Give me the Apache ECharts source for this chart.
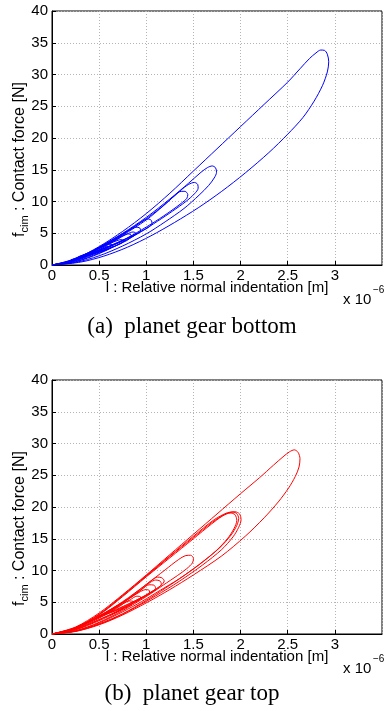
<!DOCTYPE html>
<html>
<head>
<meta charset="utf-8">
<script src="https://cdn.jsdelivr.net/npm/echarts@6/dist/echarts.min.js"></script>
<style>
  html, body { margin: 0; padding: 0; background: #fff; }
  #chart { width: 384px; height: 711px; }
</style>
</head>
<body>
<div id="chart"></div>
<script>
// indentation in 1e-6 m, force in N
const blueLoopA = [[0,0],[0.25,1.0],[0.5,2.9],[0.75,5.3],[1.0,8.1],[1.25,11.3],[1.5,14.8],[1.75,18.3],[2.0,21.8],[2.25,25.3],[2.5,28.8],[2.63,30.9],[2.73,32.5],[2.8,33.4],[2.85,33.85],[2.89,33.8],[2.92,33.2],[2.935,32.0],[2.92,30.4],[2.87,28.3],[2.78,25.8],[2.66,23.2],[2.5,20.6],[2.3,17.7],[2.05,14.5],[1.8,11.6],[1.55,9.0],[1.3,6.7],[1.05,4.6],[0.8,2.8],[0.55,1.4],[0.3,0.45],[0,0]];
const blueLoopB = [[0,0],[0.25,0.9],[0.5,2.8],[0.75,5.0],[1.0,7.5],[1.25,10.4],[1.45,12.9],[1.58,14.6],[1.65,15.35],[1.7,15.6],[1.735,15.3],[1.745,14.6],[1.72,13.7],[1.66,12.5],[1.56,11.0],[1.4,8.9],[1.2,6.8],[1.0,4.9],[0.75,3.0],[0.5,1.45],[0.25,0.4],[0,0]];
const blueLoopC = [[0,0],[0.25,0.85],[0.5,2.7],[0.75,4.9],[1.0,7.3],[1.2,9.6],[1.36,11.7],[1.45,12.7],[1.51,13.0],[1.545,12.7],[1.55,12.1],[1.51,11.2],[1.42,10.0],[1.28,8.5],[1.12,6.9],[0.95,5.3],[0.75,3.6],[0.5,1.8],[0.25,0.5],[0,0]];
const blueLoopD = [[0,0],[0.25,0.8],[0.5,2.6],[0.75,4.7],[1.0,7.1],[1.18,9.3],[1.3,10.9],[1.37,11.6],[1.41,11.6],[1.44,11.1],[1.43,10.5],[1.37,9.7],[1.26,8.5],[1.1,6.9],[0.9,5.1],[0.7,3.5],[0.5,2.1],[0.25,0.65],[0,0]];
const blueLoopE = [[0,0],[0.25,0.8],[0.5,2.6],[0.72,4.5],[0.88,6.1],[0.97,7.0],[1.02,7.25],[1.055,7.0],[1.06,6.5],[1.02,5.9],[0.92,5.1],[0.78,4.1],[0.62,3.0],[0.45,1.9],[0.25,0.75],[0,0]];
const blueLoopF = [[0.08,0.15],[0.3,1.3],[0.5,2.8],[0.68,4.3],[0.82,5.5],[0.89,5.95],[0.93,5.85],[0.94,5.4],[0.89,4.8],[0.78,4.1],[0.64,3.2],[0.48,2.2],[0.3,1.1],[0.08,0.15]];
const blueLoopG = [[0.35,1.6],[0.52,2.8],[0.68,4.0],[0.8,4.9],[0.86,5.2],[0.89,5.0],[0.87,4.6],[0.79,4.0],[0.66,3.2],[0.5,2.3],[0.35,1.6]];
const blueLoopH = [[0.28,1.3],[0.45,2.3],[0.6,3.3],[0.7,3.9],[0.74,4.0],[0.76,3.75],[0.72,3.3],[0.62,2.7],[0.46,1.95],[0.28,1.3]];
const blueLoopI = [[0.2,0.8],[0.37,1.8],[0.52,2.8],[0.6,3.25],[0.64,3.2],[0.64,2.9],[0.57,2.45],[0.45,1.85],[0.32,1.25],[0.2,0.8]];
const blueLoopJ = [[0.15,0.4],[0.35,1.5],[0.5,2.4],[0.58,2.9],[0.62,2.85],[0.6,2.5],[0.5,2.0],[0.35,1.3],[0.15,0.4]];
const blueLoopK = [[0,0],[0.25,0.75],[0.5,2.4],[0.7,4.1],[0.8,4.9],[0.84,4.7],[0.82,4.1],[0.7,3.2],[0.5,1.9],[0.25,0.55],[0,0]];

const redLoopA = [[0,0],[0.25,1.1],[0.5,3.3],[0.75,6.2],[1.0,9.3],[1.25,12.5],[1.5,15.7],[1.75,18.9],[2.0,22.1],[2.2,24.6],[2.35,26.6],[2.45,27.9],[2.52,28.7],[2.57,29.0],[2.61,28.6],[2.63,27.6],[2.62,26.3],[2.58,24.8],[2.51,23.0],[2.4,20.8],[2.25,18.3],[2.05,15.4],[1.8,12.3],[1.5,9.3],[1.25,7.0],[1.0,4.9],[0.75,3.0],[0.5,1.45],[0.25,0.4],[0,0]];
const redLoopB = [[0,0],[0.25,1.0],[0.5,3.1],[0.75,6.0],[1.0,9.1],[1.25,12.2],[1.5,15.2],[1.7,17.6],[1.83,18.8],[1.92,19.2],[1.96,18.95],[1.98,18.2],[1.96,17.1],[1.9,15.6],[1.78,13.6],[1.6,11.4],[1.4,9.2],[1.2,7.2],[1.0,5.3],[0.75,3.2],[0.5,1.6],[0.25,0.45],[0,0]];
const redLoopC = [[0,0],[0.25,0.95],[0.5,3.0],[0.75,5.9],[1.0,9.0],[1.25,12.0],[1.5,15.0],[1.69,17.3],[1.81,18.6],[1.89,19.05],[1.94,18.8],[1.96,17.9],[1.93,16.6],[1.86,15.0],[1.74,13.1],[1.56,10.9],[1.35,8.7],[1.15,6.9],[0.95,5.1],[0.75,3.5],[0.5,1.75],[0.25,0.5],[0,0]];
const redLoopD = [[0,0],[0.25,1.0],[0.5,3.1],[0.75,6.1],[1.0,9.2],[1.25,12.3],[1.5,15.4],[1.72,18.0],[1.86,19.1],[1.94,19.25],[1.99,18.9],[2.005,18.0],[1.98,16.8],[1.92,15.3],[1.8,13.3],[1.6,10.9],[1.35,8.3],[1.1,6.0],[0.85,3.9],[0.6,2.1],[0.3,0.6],[0,0]];
const redLoopE = [[0,0],[0.25,0.9],[0.5,2.8],[0.75,5.1],[1.0,7.8],[1.2,10.1],[1.34,11.7],[1.42,12.35],[1.47,12.4],[1.5,11.9],[1.49,11.2],[1.43,10.3],[1.33,9.2],[1.18,7.7],[1.0,5.9],[0.75,3.7],[0.5,1.85],[0.25,0.5],[0,0]];
const redLoopF = [[0,0],[0.25,0.9],[0.5,2.8],[0.75,5.0],[0.95,7.2],[1.06,8.5],[1.12,8.95],[1.165,8.85],[1.19,8.35],[1.16,7.7],[1.06,6.7],[0.9,5.2],[0.7,3.6],[0.48,2.1],[0.25,0.7],[0,0]];
const redLoopG = [[0,0],[0.25,0.85],[0.5,2.7],[0.75,4.9],[0.94,6.9],[1.04,8.1],[1.1,8.5],[1.145,8.35],[1.16,7.85],[1.12,7.2],[1.02,6.2],[0.86,4.9],[0.68,3.5],[0.48,2.15],[0.25,0.75],[0,0]];
const redLoopH = [[0.2,0.6],[0.4,1.9],[0.6,3.5],[0.8,5.4],[0.95,7.0],[1.03,7.75],[1.08,7.7],[1.1,7.2],[1.05,6.6],[0.93,5.6],[0.76,4.3],[0.58,3.1],[0.4,2.0],[0.2,0.6]];
const redLoopI = [[0.48,2.7],[0.65,4.1],[0.82,5.6],[0.94,6.7],[1.0,7.0],[1.035,6.8],[1.03,6.4],[0.96,5.8],[0.82,4.8],[0.64,3.6],[0.48,2.7]];
const redLoopJ = [[0.55,3.0],[0.7,4.3],[0.83,5.4],[0.9,5.95],[0.94,5.85],[0.93,5.4],[0.84,4.7],[0.7,3.8],[0.55,3.0]];
const redLoopK = [[0,0],[0.25,0.8],[0.5,2.5],[0.7,4.2],[0.82,5.2],[0.86,5.1],[0.84,4.6],[0.7,3.5],[0.5,2.1],[0.25,0.65],[0,0]];

const topLoops = [blueLoopA, blueLoopB, blueLoopC, blueLoopD, blueLoopE, blueLoopF, blueLoopG, blueLoopH, blueLoopI, blueLoopJ, blueLoopK];
const bottomLoops = [redLoopA, redLoopB, redLoopC, redLoopD, redLoopE, redLoopF, redLoopG, redLoopH, redLoopI, redLoopJ, redLoopK];

const xName = 'l : Relative normal indentation [m]';
const yNameParts = ['f', 'cim', ' : Contact force [N]'];
const captions = ['(a)\u2002planet gear bottom', '(b)\u2002planet gear top'];

const FONT = 'Liberation Sans, Arial, sans-serif';
const SERIF = 'Liberation Serif, Times New Roman, serif';

function xAxisFor(i) {
  return {
    gridIndex: i, type: 'value', min: 0, max: 3.5, interval: 0.5,
    name: xName, nameLocation: 'middle', nameGap: 15, nameMoveOverlap: false,
    nameTextStyle: { color: '#000', fontSize: 15, fontFamily: FONT },
    axisLine: { show: true, lineStyle: { color: '#000', width: 1 } },
    axisTick: { show: true, inside: true, length: 4, lineStyle: { color: '#000' } },
    axisLabel: { color: '#000', fontSize: 15, fontFamily: FONT, margin: 3, showMaxLabel: false },
    splitLine: { show: true, lineStyle: { color: '#b4b4b4', type: [1, 2], width: 1 } }
  };
}
function yAxisFor(i) {
  return {
    gridIndex: i, type: 'value', min: 0, max: 40, interval: 5,
    axisLine: { show: true, lineStyle: { color: '#000', width: 1 } },
    axisTick: { show: true, inside: true, length: 4, lineStyle: { color: '#000' } },
    axisLabel: { color: '#000', fontSize: 15, fontFamily: FONT, margin: 4 },
    splitLine: { show: true, lineStyle: { color: '#b4b4b4', type: [1, 2], width: 1 } }
  };
}
function loopSeries(data, i, color) {
  return {
    type: 'line', xAxisIndex: i, yAxisIndex: i, data: data,
    smooth: 0.3, symbol: 'none', silent: true,
    lineStyle: { color: color, width: 1 }
  };
}
// rotated y label: f, subscript cim, rest of text
function yLabel(bottomY) {
  const fW = 4.5, subW = 17;
  return [
    { type: 'text', x: 20, y: bottomY, rotation: Math.PI / 2,
      style: { text: yNameParts[0], fill: '#000', font: '16px ' + FONT, align: 'left', verticalAlign: 'middle' } },
    { type: 'text', x: 25, y: bottomY - fW, rotation: Math.PI / 2,
      style: { text: yNameParts[1], fill: '#000', font: '11px ' + FONT, align: 'left', verticalAlign: 'middle' } },
    { type: 'text', x: 20, y: bottomY - fW - subW, rotation: Math.PI / 2,
      style: { text: yNameParts[2], fill: '#000', font: '16px ' + FONT, align: 'left', verticalAlign: 'middle' } }
  ];
}

const chart = echarts.init(document.getElementById('chart'));
chart.setOption({
  animation: false,
  backgroundColor: '#fff',
  grid: [
    { left: 52, right: 2, top: 11, height: 254, show: true, borderColor: '#000', borderWidth: 1, containLabel: false, outerBoundsMode: 'none' },
    { left: 52, right: 2, top: 380, height: 254, show: true, borderColor: '#000', borderWidth: 1, containLabel: false, outerBoundsMode: 'none' }
  ],
  xAxis: [xAxisFor(0), xAxisFor(1)],
  yAxis: [yAxisFor(0), yAxisFor(1)],
  series: topLoops.map(d => loopSeries(d, 0, '#0000ff'))
    .concat(bottomLoops.map(d => loopSeries(d, 1, '#ff0000'))),
  graphic: yLabel(237).concat(yLabel(606)).concat([
    { type: 'text', left: 343, top: 292, style: { text: 'x 10', fill: '#000', font: '15px ' + FONT } },
    { type: 'text', left: 373, top: 285, style: { text: '\u22126', fill: '#000', font: '10px ' + FONT } },
    { type: 'text', left: 343, top: 661, style: { text: 'x 10', fill: '#000', font: '15px ' + FONT } },
    { type: 'text', left: 373, top: 654, style: { text: '\u22126', fill: '#000', font: '10px ' + FONT } },
    { type: 'text', left: 'center', top: 315, style: { text: captions[0], fill: '#000', font: '23px ' + SERIF } },
    { type: 'text', left: 'center', top: 682, style: { text: captions[1], fill: '#000', font: '23px ' + SERIF } }
  ])
});
window.addEventListener('resize', function () { chart.resize(); });
</script>
</body>
</html>
